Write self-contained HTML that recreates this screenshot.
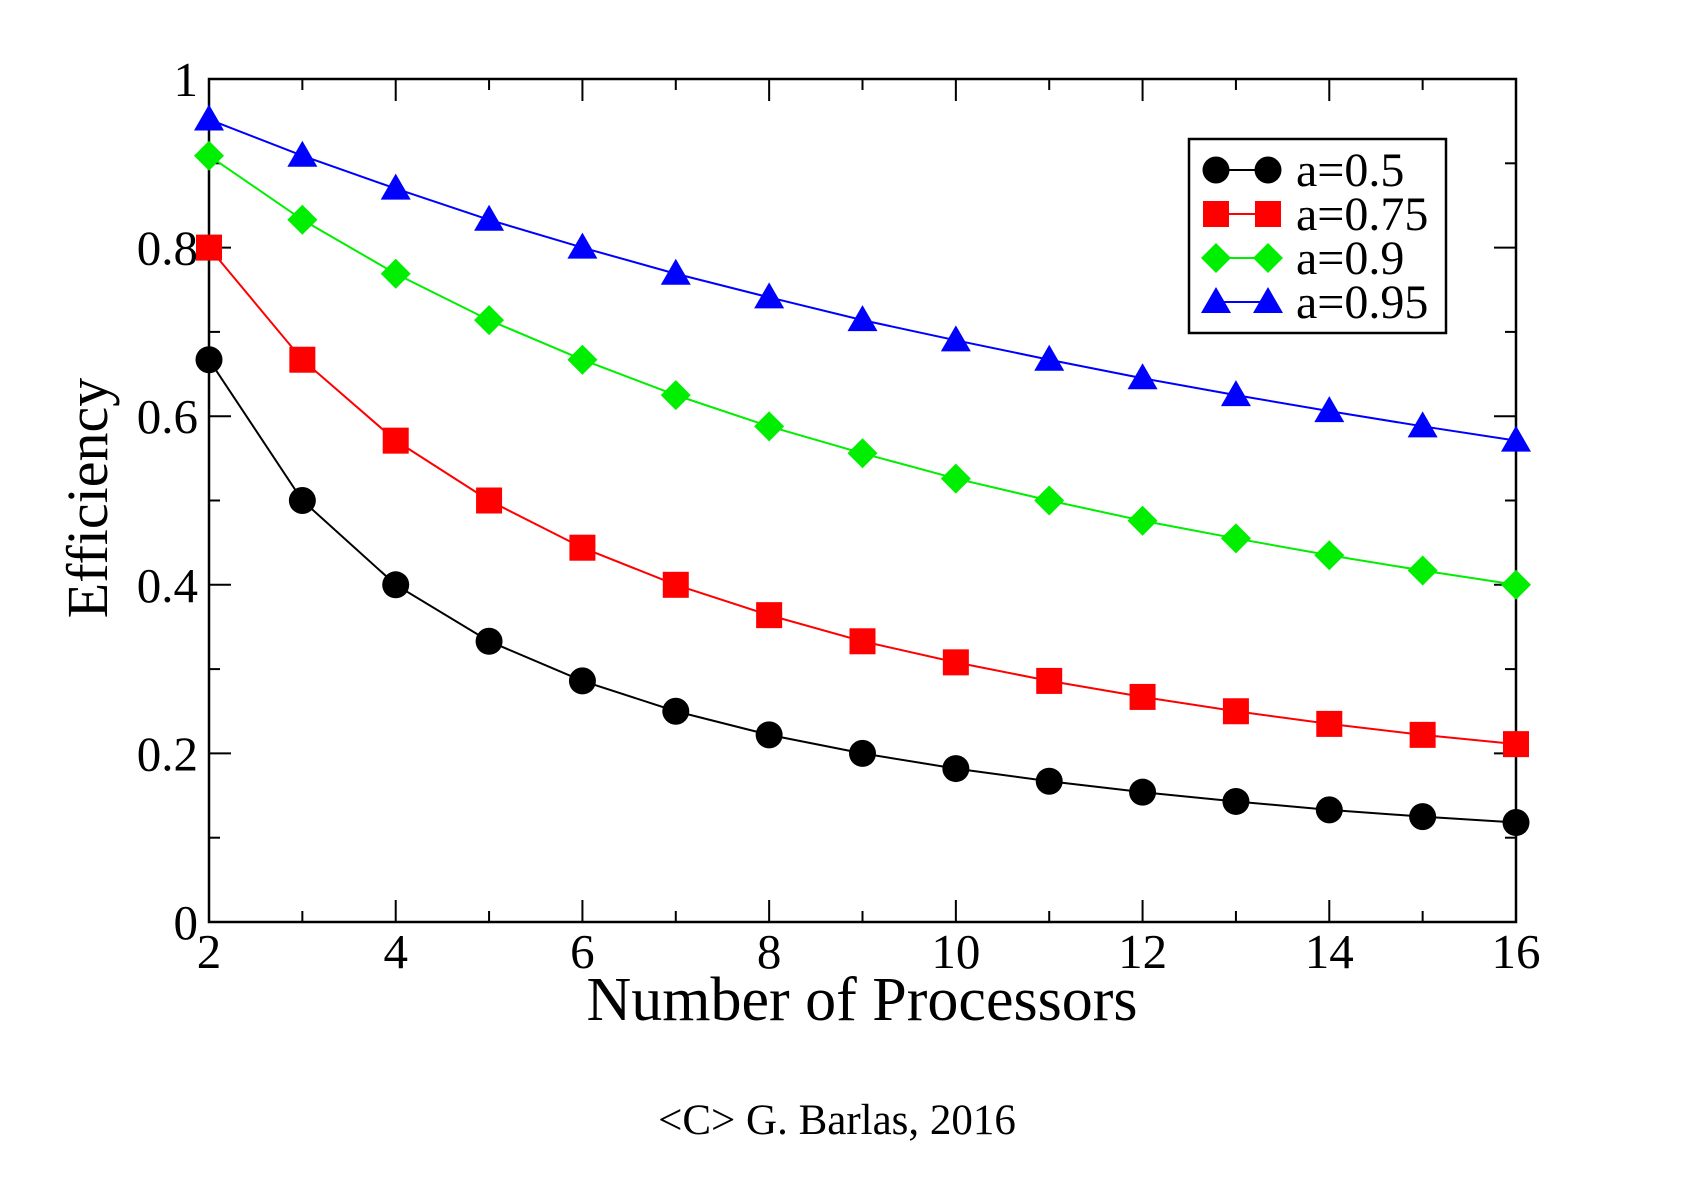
<!DOCTYPE html>
<html><head><meta charset="utf-8"><style>
body{margin:0;background:#fff;}
svg{display:block;font-family:"Liberation Serif",serif;}
svg text{font-family:"Liberation Serif",serif;}
</style></head><body>
<svg id="chart" width="1690" height="1182" viewBox="0 0 1690 1182" xmlns="http://www.w3.org/2000/svg">
<g id="grid"></g>
<g id="series"></g>
<g id="legend"></g>
<text x="862" y="1020" font-size="62" text-anchor="middle">Number of Processors</text>
<text transform="translate(107,498) rotate(-90)" font-size="58" text-anchor="middle">Efficiency</text>
<text x="837" y="1134" font-size="43" text-anchor="middle">&lt;C&gt; G. Barlas, 2016</text>
</svg>
<script>
const processors=[2,3,4,5,6,7,8,9,10,11,12,13,14,15,16];
const effA05=[0.667,0.5,0.4,0.333,0.286,0.25,0.222,0.2,0.182,0.167,0.154,0.143,0.133,0.125,0.118];
const effA075=[0.8,0.667,0.571,0.5,0.444,0.4,0.364,0.333,0.308,0.286,0.267,0.25,0.235,0.222,0.211];
const effA09=[0.909,0.833,0.769,0.714,0.667,0.625,0.588,0.556,0.526,0.5,0.476,0.455,0.435,0.417,0.4];
const effA095=[0.952,0.909,0.870,0.833,0.8,0.769,0.741,0.714,0.690,0.667,0.645,0.625,0.606,0.588,0.571];
const seriesLabels=["a=0.5","a=0.75","a=0.9","a=0.95"];
const xTickLabels=["2","4","6","8","10","12","14","16"];
const yTickLabels=["0","0.2","0.4","0.6","0.8","1"];

const NS="http://www.w3.org/2000/svg";
const L=209,R=1516,T=79,B=922;
const xMin=2,xMax=16,yMin=0,yMax=1;
const xs=v=>L+(v-xMin)/(xMax-xMin)*(R-L);
const ys=v=>B-(v-yMin)/(yMax-yMin)*(B-T);
function mk(tag,attrs,parent){const e=document.createElementNS(NS,tag);for(const k in attrs)e.setAttribute(k,attrs[k]);parent.appendChild(e);return e;}
const grid=document.getElementById('grid');
for(let v=2;v<=16;v++){const maj=v%2===0;const len=maj?22:11;const x=xs(v);
 let t=mk('line',{x1:x,x2:x,y1:B,y2:B-len,stroke:'#000','stroke-width':2},grid);
 
 t=mk('line',{x1:x,x2:x,y1:T,y2:T+len,stroke:'#000','stroke-width':2},grid);
 }
for(let i=0;i<=10;i++){const v=i/10;const maj=i%2===0;const len=maj?22:11;const y=ys(v);
 let t=mk('line',{x1:L,x2:L+len,y1:y,y2:y,stroke:'#000','stroke-width':2},grid);
 
 t=mk('line',{x1:R,x2:R-len,y1:y,y2:y,stroke:'#000','stroke-width':2},grid);
 }
xTickLabels.forEach(s=>{const t=mk('text',{x:xs(+s),y:968,'font-size':49,'text-anchor':'middle'},grid);t.textContent=s;
 });
yTickLabels.forEach(s=>{const t=mk('text',{x:198,y:ys(+s)+17,'font-size':49,'text-anchor':'end'},grid);t.textContent=s;
 });
const frame=mk('rect',{x:L,y:T,width:R-L,height:B-T,fill:'none',stroke:'#000','stroke-width':2.5},grid);


const colors=['#000000','#ff0000','#00ee00','#0000ff'];
const shapes=['circle','square','diamond','triangle'];
function marker(shape,x,y,c,parent){
 if(shape==='circle')return mk('circle',{cx:x,cy:y,r:13.5,fill:c},parent);
 if(shape==='square')return mk('rect',{x:x-13,y:y-13,width:26,height:26,fill:c},parent);
 if(shape==='diamond')return mk('polygon',{points:`${x},${y-15} ${x+15},${y} ${x},${y+15} ${x-15},${y}`,fill:c},parent);
 return mk('polygon',{points:`${x},${y-15} ${x+15},${y+11} ${x-15},${y+11}`,fill:c},parent);
}
const all=[effA05,effA075,effA09,effA095];
const sg=document.getElementById('series');
all.forEach((arr,si)=>{
 const g=mk('g',{},sg);
 
 
 const pl=mk('polyline',{points:arr.map((v,i)=>xs(processors[i])+','+ys(v)).join(' '),fill:'none',stroke:colors[si],'stroke-width':2},g);
 
 arr.forEach((v,i)=>{const m=marker(shapes[si],xs(processors[i]),ys(v),colors[si],g);
  });
});
const lg=document.getElementById('legend');
const box=mk('rect',{x:1189,y:139,width:257,height:194,fill:'#fff',stroke:'#000','stroke-width':2.5},lg);

const ly=[170,214,258,302];
seriesLabels.forEach((s,i)=>{
 const g=mk('g',{},lg);
 
 mk('line',{x1:1216,x2:1268,y1:ly[i],y2:ly[i],stroke:colors[i],'stroke-width':2},g);
 marker(shapes[i],1216,ly[i],colors[i],g);marker(shapes[i],1268,ly[i],colors[i],g);
 const t=mk('text',{x:1296,y:ly[i]+16,'font-size':48},g);t.textContent=s;
 
});
</script>
</body></html>
